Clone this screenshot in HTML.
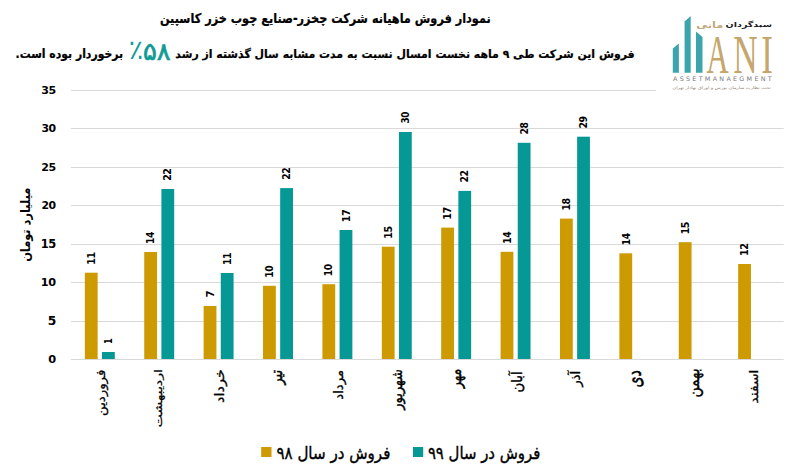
<!DOCTYPE html>
<html lang="fa"><head><meta charset="utf-8"><title>نمودار فروش ماهیانه</title>
<style>
html,body{margin:0;padding:0;background:#fff;}
body{width:793px;height:473px;overflow:hidden;position:relative;font-family:"DejaVu Sans",sans-serif;color:#000;}
.f{position:absolute;left:0;top:0;width:793px;height:473px;transform-origin:0 0;}
.a{position:absolute;white-space:nowrap;line-height:1;}
.fa{font-family:"DejaVu Sans","Liberation Sans",sans-serif;direction:rtl;}
.b{font-weight:bold;}
.rl{position:absolute;width:0;height:0;}
.rl span{position:absolute;right:0;top:-8px;height:16px;line-height:16px;white-space:nowrap;transform-origin:100% 50%;transform:rotate(-90deg);direction:rtl;font-weight:bold;font-family:"DejaVu Sans",sans-serif;}
.dl{position:absolute;width:0;height:0;}
.dl span{position:absolute;left:0;top:-7px;height:14px;line-height:14px;white-space:nowrap;transform-origin:0 50%;transform:rotate(-90deg);font-weight:bold;font-family:"DejaVu Sans",sans-serif;font-size:11px;letter-spacing:-0.6px;}
.yl{position:absolute;right:737px;font-family:"DejaVu Sans",sans-serif;font-weight:bold;font-size:11.5px;line-height:14px;letter-spacing:-0.5px;text-align:right;}
</style></head><body>

<svg width="793" height="473" viewBox="0 0 793 473" style="position:absolute;left:0;top:0">
<line x1="71.0" y1="321.5" x2="783.7" y2="321.5" stroke="#D9D9D9" stroke-width="1"/>
<line x1="71.0" y1="282.5" x2="783.7" y2="282.5" stroke="#D9D9D9" stroke-width="1"/>
<line x1="71.0" y1="244.5" x2="783.7" y2="244.5" stroke="#D9D9D9" stroke-width="1"/>
<line x1="71.0" y1="205.5" x2="783.7" y2="205.5" stroke="#D9D9D9" stroke-width="1"/>
<line x1="71.0" y1="167.5" x2="783.7" y2="167.5" stroke="#D9D9D9" stroke-width="1"/>
<line x1="71.0" y1="128.5" x2="783.7" y2="128.5" stroke="#D9D9D9" stroke-width="1"/>
<line x1="71.0" y1="90.5" x2="783.7" y2="90.5" stroke="#D9D9D9" stroke-width="1"/>
<line x1="71.0" y1="359.5" x2="783.7" y2="359.5" stroke="#D9D9D9" stroke-width="1"/>
<rect x="84.85" y="272.70" width="12.8" height="86.30" fill="#CD9A02"/>
<rect x="144.24" y="252.00" width="12.8" height="107.00" fill="#CD9A02"/>
<rect x="203.63" y="306.00" width="12.8" height="53.00" fill="#CD9A02"/>
<rect x="263.03" y="285.80" width="12.8" height="73.20" fill="#CD9A02"/>
<rect x="322.42" y="284.20" width="12.8" height="74.80" fill="#CD9A02"/>
<rect x="381.81" y="246.70" width="12.8" height="112.30" fill="#CD9A02"/>
<rect x="441.20" y="227.60" width="12.8" height="131.40" fill="#CD9A02"/>
<rect x="500.59" y="251.80" width="12.8" height="107.20" fill="#CD9A02"/>
<rect x="559.98" y="218.60" width="12.8" height="140.40" fill="#CD9A02"/>
<rect x="619.38" y="253.30" width="12.8" height="105.70" fill="#CD9A02"/>
<rect x="678.77" y="242.20" width="12.8" height="116.80" fill="#CD9A02"/>
<rect x="738.16" y="264.00" width="12.8" height="95.00" fill="#CD9A02"/>
<rect x="102.00" y="352.00" width="12.8" height="7.00" fill="#059895"/>
<rect x="161.39" y="189.00" width="12.8" height="170.00" fill="#059895"/>
<rect x="220.78" y="273.00" width="12.8" height="86.00" fill="#059895"/>
<rect x="280.18" y="188.10" width="12.8" height="170.90" fill="#059895"/>
<rect x="339.57" y="230.00" width="12.8" height="129.00" fill="#059895"/>
<rect x="398.96" y="132.00" width="12.8" height="227.00" fill="#059895"/>
<rect x="458.35" y="190.90" width="12.8" height="168.10" fill="#059895"/>
<rect x="517.74" y="142.80" width="12.8" height="216.20" fill="#059895"/>
<rect x="577.13" y="136.70" width="12.8" height="222.30" fill="#059895"/>
<rect x="261.2" y="447" width="10.3" height="10" fill="#CD9A02"/>
<rect x="413" y="447" width="10.2" height="10" fill="#059895"/>
<rect x="656" y="8" width="131" height="84" fill="#fff"/>
<polygon points="672.8,48.5 678.9,43.4 678.9,72.7 672.8,72.7" fill="#3BA4AC"/>
<polygon points="684.6,21.4 690.7,16.1 690.7,72.7 684.6,72.7" fill="#3BA4AC"/>
<polygon points="696,31.6 702.5,37.1 702.5,72.7 696,72.7" fill="#3BA4AC"/>
</svg>
<div class="f" style="transform:translate(81.12px,2.83px) scale(0.8360,0.9944)"><div class="a fa b" style="right:303px;top:9px;font-size:13.5px;-webkit-text-stroke:0.25px #000;">نمودار فروش ماهیانه شرکت چخزر-صنایع چوب خزر کاسپین</div></div>
<div class="f" style="transform:translate(102.56px,9.49px) scale(0.8393,0.8741)"><div class="a fa b" style="right:159px;top:45px;font-size:13px;-webkit-text-stroke:0.25px #000;">فروش این شرکت طی ۹ ماهه نخست امسال نسبت به مدت مشابه سال گذشته از رشد</div></div>
<div class="f" style="transform:translate(-45.96px,-19.29px) scale(1.3444,1.3725)"><div class="a" style="left:130px;top:40px;font-size:20px;color:#109A95;">٪</div></div>
<div class="f" style="transform:translate(-24.43px,-5.52px) scale(1.1702,1.1211)"><div class="a" style="left:143px;top:40px;font-size:22px;color:#109A95;direction:ltr;-webkit-text-stroke:0.6px #109A95;">۵۸</div></div>
<div class="f" style="transform:translate(2.21px,2.73px) scale(0.8340,0.9902)"><div class="a fa b" style="left:16px;top:45px;font-size:13px;-webkit-text-stroke:0.25px #000;">برخوردار بوده است.</div></div>
<div class="f" style="transform:translate(-2.63px,16.07px) scale(1.0404,0.9126)"><div class="rl" style="left:27px;top:188px;"><span style="font-size:12.5px;">میلیارد تومان</span></div></div>
<div class="f" style="transform:translate(0.31px,-41.06px) scale(1.0026,1.1072)"><div class="rl" style="left:100.7px;top:371px;"><span style="font-size:12px;font-weight:normal;-webkit-text-stroke:0.3px #000;">فروردین</span></div></div>
<div class="f" style="transform:translate(24.44px,-70.39px) scale(0.8386,1.1844)"><div class="rl" style="left:160.1px;top:371px;"><span style="font-size:12px;font-weight:normal;-webkit-text-stroke:0.3px #000;">اردیبهشت</span></div></div>
<div class="f" style="transform:translate(-13.16px,-76.90px) scale(1.0629,1.2024)"><div class="rl" style="left:219.5px;top:371px;"><span style="font-size:12px;font-weight:normal;-webkit-text-stroke:0.3px #000;">خرداد</span></div></div>
<div class="f" style="transform:translate(-122.00px,-35.65px) scale(1.4307,1.0929)"><div class="rl" style="left:278.9px;top:371px;"><span style="font-size:12px;font-weight:normal;-webkit-text-stroke:0.3px #000;">تیر</span></div></div>
<div class="f" style="transform:translate(-23.62px,-38.41px) scale(1.0713,1.1005)"><div class="rl" style="left:338.3px;top:371px;"><span style="font-size:12px;font-weight:normal;-webkit-text-stroke:0.3px #000;">مرداد</span></div></div>
<div class="f" style="transform:translate(-104.41px,-32.64px) scale(1.2618,1.0827)"><div class="rl" style="left:397.7px;top:371px;"><span style="font-size:12px;font-weight:normal;-webkit-text-stroke:0.3px #000;">شهریور</span></div></div>
<div class="f" style="transform:translate(-181.80px,-19.61px) scale(1.3952,1.0467)"><div class="rl" style="left:457.0px;top:371px;"><span style="font-size:12px;font-weight:normal;-webkit-text-stroke:0.3px #000;">مهر</span></div></div>
<div class="f" style="transform:translate(-113.77px,-40.09px) scale(1.2225,1.1089)"><div class="rl" style="left:516.4px;top:371px;"><span style="font-size:12px;font-weight:normal;-webkit-text-stroke:0.3px #000;">آبان</span></div></div>
<div class="f" style="transform:translate(-55.27px,-44.80px) scale(1.0970,1.1198)"><div class="rl" style="left:575.8px;top:371px;"><span style="font-size:12px;font-weight:normal;-webkit-text-stroke:0.3px #000;">آذر</span></div></div>
<div class="f" style="transform:translate(-437.79px,-65.80px) scale(1.6894,1.1749)"><div class="rl" style="left:635.2px;top:371px;"><span style="font-size:12px;font-weight:normal;-webkit-text-stroke:0.3px #000;">دی</span></div></div>
<div class="f" style="transform:translate(-275.52px,-66.84px) scale(1.3943,1.1730)"><div class="rl" style="left:694.6px;top:371px;"><span style="font-size:12px;font-weight:normal;-webkit-text-stroke:0.3px #000;">بهمن</span></div></div>
<div class="f" style="transform:translate(-1.74px,-55.58px) scale(1.0020,1.1463)"><div class="rl" style="left:754.0px;top:371px;"><span style="font-size:12px;font-weight:normal;-webkit-text-stroke:0.3px #000;">اسفند</span></div></div>
<div class="f" style="transform:translate(0.34px,8.37px) scale(0.9859,0.9774)"><div class="yl" style="top:352.0px;">0</div></div>
<div class="f" style="transform:translate(-3.81px,-1.84px) scale(1.0647,1.0061)"><div class="yl" style="top:314.0px;">5</div></div>
<div class="f" style="transform:translate(0.77px,6.63px) scale(0.9783,0.9774)"><div class="yl" style="top:275.0px;">10</div></div>
<div class="f" style="transform:translate(0.00px,-1.37px) scale(0.9964,1.0061)"><div class="yl" style="top:237.0px;">15</div></div>
<div class="f" style="transform:translate(2.74px,4.88px) scale(0.9430,0.9774)"><div class="yl" style="top:198.0px;">20</div></div>
<div class="f" style="transform:translate(2.02px,4.02px) scale(0.9602,0.9774)"><div class="yl" style="top:160.0px;">25</div></div>
<div class="f" style="transform:translate(2.69px,3.14px) scale(0.9440,0.9774)"><div class="yl" style="top:121.0px;">30</div></div>
<div class="f" style="transform:translate(1.99px,2.28px) scale(0.9608,0.9774)"><div class="yl" style="top:83.0px;">35</div></div>
<div class="f" style="transform:translate(-1.49px,36.91px) scale(1.0254,0.8627)"><div class="dl" style="left:90.8px;top:263.7px;"><span>11</span></div></div>
<div class="f" style="transform:translate(-2.65px,38.40px) scale(1.0254,0.8462)"><div class="dl" style="left:150.2px;top:243.0px;"><span>14</span></div></div>
<div class="f" style="transform:translate(-4.56px,27.44px) scale(1.0254,0.9094)"><div class="dl" style="left:209.6px;top:297.0px;"><span>7</span></div></div>
<div class="f" style="transform:translate(10.46px,43.32px) scale(0.9651,0.8466)"><div class="dl" style="left:269.0px;top:276.8px;"><span>10</span></div></div>
<div class="f" style="transform:translate(12.88px,43.37px) scale(0.9651,0.8470)"><div class="dl" style="left:328.4px;top:275.2px;"><span>10</span></div></div>
<div class="f" style="transform:translate(2.88px,33.37px) scale(0.9943,0.8627)"><div class="dl" style="left:387.8px;top:237.7px;"><span>15</span></div></div>
<div class="f" style="transform:translate(-10.18px,26.98px) scale(1.0254,0.8805)"><div class="dl" style="left:447.2px;top:218.6px;"><span>17</span></div></div>
<div class="f" style="transform:translate(-12.35px,42.63px) scale(1.0254,0.8274)"><div class="dl" style="left:506.6px;top:242.8px;"><span>14</span></div></div>
<div class="f" style="transform:translate(20.58px,29.41px) scale(0.9651,0.8627)"><div class="dl" style="left:566.0px;top:209.6px;"><span>18</span></div></div>
<div class="f" style="transform:translate(-14.40px,43.32px) scale(1.0254,0.8274)"><div class="dl" style="left:625.4px;top:244.3px;"><span>14</span></div></div>
<div class="f" style="transform:translate(4.56px,33.13px) scale(0.9943,0.8632)"><div class="dl" style="left:684.8px;top:233.2px;"><span>15</span></div></div>
<div class="f" style="transform:translate(5.48px,31.64px) scale(0.9943,0.8800)"><div class="dl" style="left:744.2px;top:255.0px;"><span>12</span></div></div>
<div class="f" style="transform:translate(-1.72px,87.04px) scale(1.0254,0.7488)"><div class="dl" style="left:108.0px;top:343.0px;"><span>1</span></div></div>
<div class="f" style="transform:translate(2.40px,24.90px) scale(0.9943,0.8663)"><div class="dl" style="left:167.4px;top:180.0px;"><span>22</span></div></div>
<div class="f" style="transform:translate(-5.04px,37.27px) scale(1.0254,0.8627)"><div class="dl" style="left:226.8px;top:264.0px;"><span>11</span></div></div>
<div class="f" style="transform:translate(2.79px,28.27px) scale(0.9943,0.8466)"><div class="dl" style="left:286.2px;top:179.1px;"><span>22</span></div></div>
<div class="f" style="transform:translate(-8.11px,27.57px) scale(1.0254,0.8805)"><div class="dl" style="left:345.6px;top:221.0px;"><span>17</span></div></div>
<div class="f" style="transform:translate(15.11px,23.26px) scale(0.9651,0.8148)"><div class="dl" style="left:405.0px;top:123.0px;"><span>30</span></div></div>
<div class="f" style="transform:translate(4.09px,28.45px) scale(0.9943,0.8466)"><div class="dl" style="left:464.4px;top:181.9px;"><span>22</span></div></div>
<div class="f" style="transform:translate(18.97px,23.16px) scale(0.9651,0.8306)"><div class="dl" style="left:523.7px;top:133.8px;"><span>28</span></div></div>
<div class="f" style="transform:translate(21.38px,19.69px) scale(0.9651,0.8499)"><div class="dl" style="left:583.1px;top:127.7px;"><span>29</span></div></div>
<div class="f" style="transform:translate(-1.10px,-60.78px) scale(1.0054,1.1443)"><div class="a fa" style="left:276px;top:442px;font-size:15px;-webkit-text-stroke:0.35px #000;">فروش در سال ۹۸</div></div>
<div class="f" style="transform:translate(3.35px,-60.78px) scale(0.9919,1.1443)"><div class="a fa" style="left:428px;top:442px;font-size:15px;-webkit-text-stroke:0.35px #000;">فروش در سال ۹۹</div></div>
<div class="f" style="transform:translate(96.59px,10.40px) scale(0.8664,0.6400)"><div class="a fa b" style="left:726px;top:17px;font-size:11px;color:#1d1d1d;">سبدگردان</div></div>
<div class="f" style="transform:translate(37.89px,7.79px) scale(0.9446,0.7301)"><div class="a fa b" style="left:697px;top:17px;font-size:12px;color:#C4A87A;">مانی</div></div>
<div class="f" style="transform:translate(273.97px,-6.93px) scale(0.6128,1.1046)"><div class="a" style="left:706px;top:30px;font-family:'Liberation Serif',serif;font-size:50px;color:#C6A66C;">A</div></div>
<div class="f" style="transform:translate(238.15px,-7.54px) scale(0.6746,1.1130)"><div class="a" style="left:734px;top:30px;font-family:'Liberation Serif',serif;font-size:50px;color:#C6A66C;">N</div></div>
<div class="f" style="transform:translate(228.95px,-7.54px) scale(0.6987,1.1130)"><div class="a" style="left:762px;top:30px;font-family:'Liberation Serif',serif;font-size:50px;color:#C6A66C;">I</div></div>
<div class="f" style="transform:translate(57.92px,9.22px) scale(0.9139,0.8972)"><div class="a" style="left:673px;top:75px;font-family:'DejaVu Sans',sans-serif;font-size:7px;color:#7a7a7a;letter-spacing:2.5px;">ASSETMANAEGMENT</div></div>
<div class="f" style="transform:translate(122.90px,30.67px) scale(0.8168,0.6667)"><div class="a fa" style="left:673px;top:82px;font-size:6px;color:#8f8272;">تحت نظارت سازمان بورس و اوراق بهادار تهران</div></div>
</body></html>
